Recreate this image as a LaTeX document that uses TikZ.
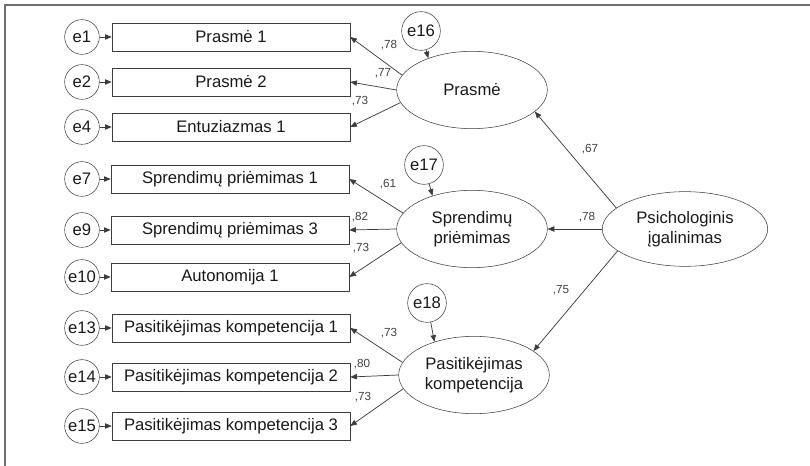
\documentclass[tikz,border=0pt]{standalone}
\usepackage{fontspec}
\setmainfont{Liberation Sans}
\usepackage{tikz}
\usetikzlibrary{shapes.geometric,arrows.meta}
\definecolor{amosline}{RGB}{60,60,60}
\definecolor{framegray}{RGB}{110,110,110}

\begin{document}
\begin{tikzpicture}[
					x=0.75pt, y=-0.75pt,
					item/.style={
						draw=amosline, fill=white, text=black!90,
						minimum width=178.5pt, minimum height=21pt,
						inner sep=0pt, font=\fontsize{12.5}{15}\selectfont
					},
					err/.style={
						draw=amosline, circle, minimum size=26pt, inner sep=0pt,
						text=black!90, font=\fontsize{12.5}{15}\selectfont
					},
					bigerr/.style={err, minimum size=29pt},
					latent/.style={
						draw=amosline, ellipse, minimum width=113pt, minimum height=58pt,
						inner sep=0pt, align=center, text=black!90,
						font=\fontsize{12.5}{15}\selectfont
					},
					coef/.style={inner sep=0pt, text=black!75, font=\fontsize{8.8}{10}\selectfont},
					link/.style={draw=amosline, line width=0.55pt, -{Triangle[length=5pt,width=4pt]}}
					]
					\useasboundingbox (0,0) rectangle (810,466);
					\draw[framegray, line width=1.3pt] (5,466) -- (5,5) -- (810,5);
					% Kintamieji (stačiakampiai)
					\node[item] (pr1) at (231,37)  {Prasmė 1};
					\node[item] (pr2) at (231,82)  {Prasmė 2};
					\node[item] (en1) at (231,127) {Entuziazmas 1};
					\node[item] (sp1) at (230,179) {Sprendimų priėmimas 1};
					\node[item] (sp3) at (230,230) {Sprendimų priėmimas 3};
					\node[item] (au1) at (230,277) {Autonomija 1};
					\node[item] (pk1) at (231,328) {Pasitikėjimas kompetencija 1};
					\node[item] (pk2) at (231,377) {Pasitikėjimas kompetencija 2};
					\node[item] (pk3) at (231,426) {Pasitikėjimas kompetencija 3};
					% Paklaidos
					\node[err] (e1)  at (82,37)  {e1};
					\node[err] (e2)  at (82,82)  {e2};
					\node[err] (e4)  at (82,127) {e4};
					\node[err] (e7)  at (82,179) {e7};
					\node[err] (e9)  at (82,230) {e9};
					\node[err] (e10) at (82,277) {e10};
					\node[err] (e13) at (82,328) {e13};
					\node[err] (e14) at (82,377) {e14};
					\node[err] (e15) at (82,426) {e15};
					\draw[link] (e1) -- (pr1);
					\draw[link] (e2) -- (pr2);
					\draw[link] (e4) -- (en1);
					\draw[link] (e7) -- (sp1);
					\draw[link] (e9) -- (sp3);
					\draw[link] (e10) -- (au1);
					\draw[link] (e13) -- (pk1);
					\draw[link] (e14) -- (pk2);
					\draw[link] (e15) -- (pk3);
					% Latentiniai faktoriai
					\node[latent] (prasme) at (472,90)  {Prasmė};
					\node[latent] (spr)    at (472,229) {Sprendimų\\priėmimas};
					\node[latent] (pasit)  at (474,375) {Pasitikėjimas\\kompetencija};
					\node[latent, minimum width=124pt, minimum height=56pt] (psich) at (685,229) {Psichologinis\\įgalinimas};
					\node[bigerr] (e16) at (421,31)  {e16};
					\node[bigerr] (e17) at (424,165) {e17};
					\node[bigerr] (e18) at (427,303) {e18};
					\draw[link] (e16) -- (prasme.144);
					\draw[link] (e17) -- (spr.140);
					\draw[link] (e18) -- (pasit.140);
					% Faktorių svoriai
					\draw[link] (prasme.168) -- (pr1.east);
					\draw[link] (prasme.west) -- (pr2.east);
					\draw[link] (prasme.190) -- (en1.east);
					\draw[link] (spr.167) -- (sp1.east);
					\draw[link] (spr.west) -- (sp3.east);
					\draw[link] (spr.191) -- (au1.east);
					\draw[link] (pasit.170) -- (pk1.east);
					\draw[link] (pasit.west) -- (pk2.east);
					\draw[link] (pasit.191) -- (pk3.east);
					\draw[link] (psich.163) -- (prasme.-19);
					\draw[link] (psich.west) -- (spr.east);
					\draw[link] (psich.198) -- (pasit.22);
					\node[coef] (w1)  at (389,45)  {,78};
					\node[coef] (w2)  at (383,73)  {,77};
					\node[coef] (w3)  at (360,101) {,73};
					\node[coef] (w4)  at (388,184) {,61};
					\node[coef] (w5)  at (360,217) {,82};
					\node[coef] (w6)  at (361,248) {,73};
					\node[coef] (w7)  at (389,333) {,73};
					\node[coef] (w8)  at (362,364) {,80};
					\node[coef] (w9)  at (363,397) {,73};
					\node[coef] (w10) at (590,149) {,67};
					\node[coef] (w11) at (587,217) {,78};
					\node[coef] (w12) at (561,290) {,75};
				\end{tikzpicture}
\end{document}
